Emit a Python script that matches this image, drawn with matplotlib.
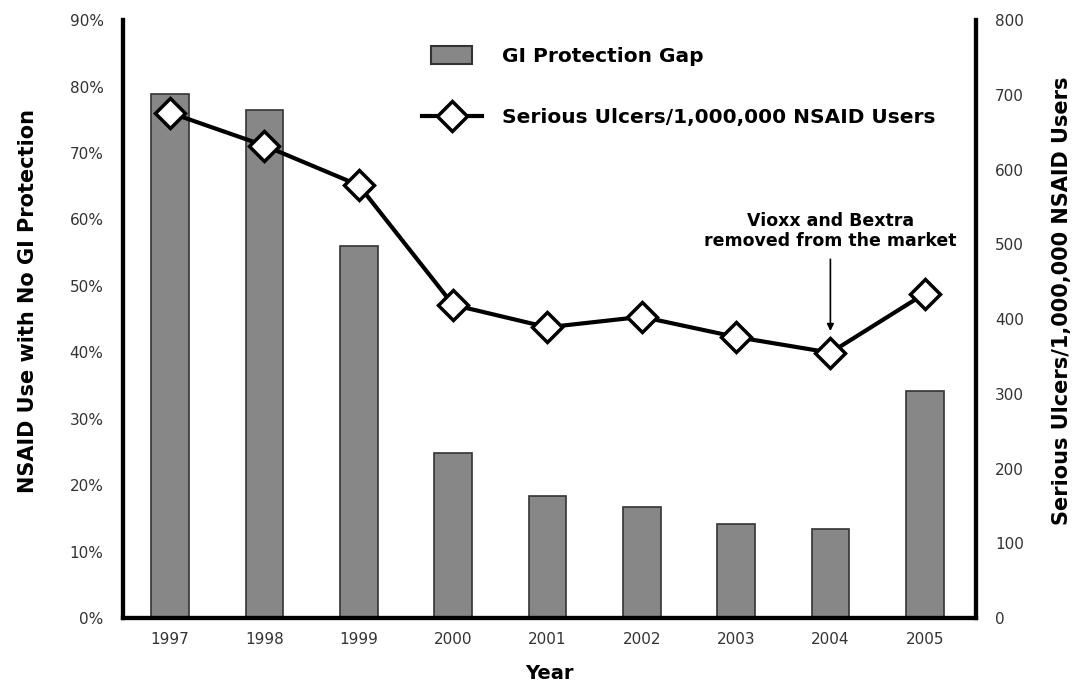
import matplotlib
matplotlib.use("Agg")
import matplotlib.pyplot as plt
from matplotlib.lines import Line2D
from matplotlib.patches import Patch, Rectangle
from matplotlib.legend_handler import HandlerPatch

plt.rcParams['font.family'] = ['DejaVu Sans']

years = ['1997', '1998', '1999', '2000', '2001', '2002', '2003', '2004', '2005']
gap_pct = [78.9, 76.4, 56.0, 24.9, 18.3, 16.7, 14.1, 13.4, 34.1]
ulcers = [676, 632, 579, 419, 389, 403, 376, 355, 434]

bar_col = '#878787'
x = list(range(len(years)))

fig = plt.figure(figsize=(10.82, 6.81), dpi=100)
ax = fig.add_axes([0.1137, 0.0925, 0.788, 0.878])
ax2 = ax.twinx()

ax.bar(x, gap_pct, width=0.4, color=bar_col, edgecolor='#333333', linewidth=1.2, zorder=2)
ax.set_xlim(-0.5, 8.54)
ax.set_ylim(0, 90)
ax.set_yticks(range(0, 91, 10))
ax.set_yticklabels(['%d%%' % v for v in range(0, 91, 10)])
ax.set_xticks(x)
ax.set_xticklabels(years)

ax2.plot(x, ulcers, color='black', linewidth=3, marker='D', markersize=15,
         markerfacecolor='white', markeredgecolor='black', markeredgewidth=2.5, zorder=3)
ax2.set_ylim(0, 800)
ax2.set_yticks(range(0, 801, 100))

for a in (ax, ax2):
    a.spines['top'].set_visible(False)
    for s in ('left', 'right', 'bottom'):
        a.spines[s].set_linewidth(3)
    a.tick_params(length=0, labelsize=11, labelcolor='#333333')
ax.tick_params(axis='y', pad=14)
ax.tick_params(axis='x', pad=10)
ax2.tick_params(axis='y', pad=14)

ax.set_ylabel('NSAID Use with No GI Protection', fontsize=15, fontweight='bold')
ax.yaxis.set_label_coords(-0.1, 0.53)
ax2.set_ylabel('Serious Ulcers/1,000,000 NSAID Users', fontsize=15, fontweight='bold')
ax2.yaxis.set_label_coords(1.089, 0.53)
ax.set_xlabel('Year', fontsize=14, fontweight='bold', labelpad=12)

ax2.text(7, 518, 'Vioxx and Bextra\nremoved from the market', ha='center', va='center',
         fontsize=12.5, fontweight='bold', linespacing=1.1)
ax2.annotate('', xy=(7, 384), xytext=(7, 480),
             arrowprops=dict(arrowstyle='-|>', color='black', lw=1.2, shrinkA=0, shrinkB=0))


def small_box(legend, orig_handle, xdescent, ydescent, width, height, fontsize):
    w = width * 0.68
    h = height * 1.3
    return Rectangle((xdescent + (width - w) / 2, ydescent + (height - h) / 2), w, h)


handles = [Patch(facecolor=bar_col, edgecolor='#333333', linewidth=1.5),
           Line2D([], [], color='black', linewidth=3, marker='D', markersize=15,
                  markerfacecolor='white', markeredgecolor='black', markeredgewidth=2.5)]
ax2.legend(handles, ['GI Protection Gap', 'Serious Ulcers/1,000,000 NSAID Users'],
           loc='upper left', bbox_to_anchor=(0.329, 0.985), frameon=False,
           prop={'weight': 'bold', 'size': 14.5}, labelspacing=2.1, handlelength=3,
           handletextpad=1.0, handler_map={Patch: HandlerPatch(patch_func=small_box)})

fig.savefig('out.png', dpi=100)
